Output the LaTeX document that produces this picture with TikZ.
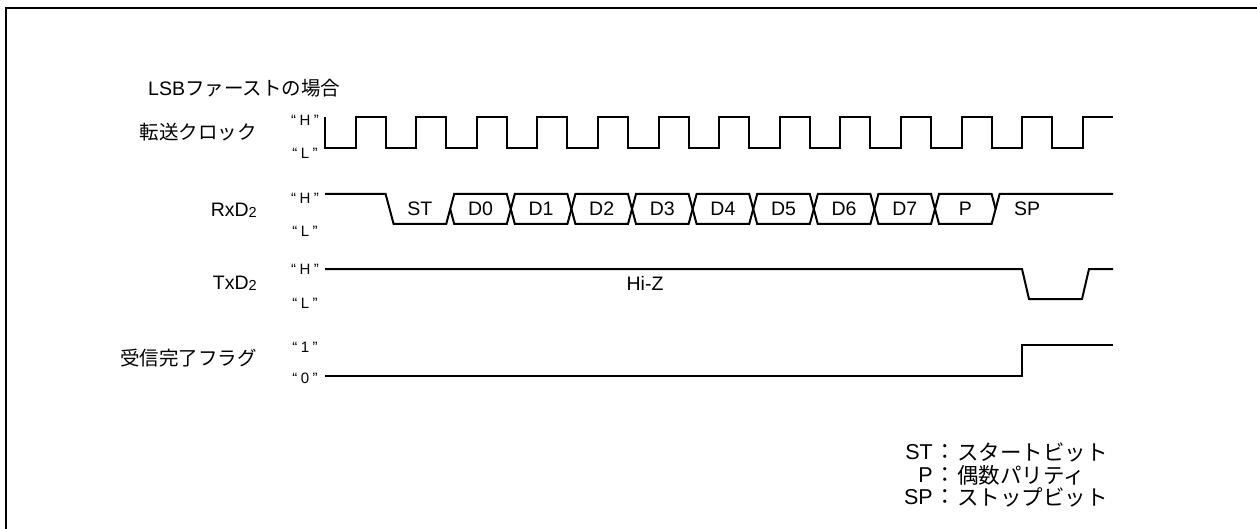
\documentclass[tikz,border=0pt]{standalone}
\usepackage{fontspec}
\setmainfont{Liberation Sans}
\newfontfamily\jp{Noto Sans CJK JP}
\newcommand{\qlab}[1]{“\kern3.5pt #1\kern3.5pt ”}
\begin{document}
\begin{tikzpicture}[x=1pt,y=-1pt,
  sig/.style={line width=2pt,line join=miter},
  frame/.style={line width=2pt},
  lab/.style={font=\fontsize{19.5}{22}\selectfont,inner sep=0pt},
  qstyle/.style={font=\fontsize{15}{16}\selectfont,inner sep=0pt},
  cell/.style={font=\fontsize{19.5}{21}\selectfont,inner sep=0pt},
  leg/.style={font=\fontsize{21.5}{23}\selectfont,inner sep=0pt}]
\useasboundingbox (0,0) rectangle (1257,529);
% frame
\draw[frame] (6,529) -- (6,8) -- (1257,8);
% title
\node[lab,anchor=west] (title) at (148,88) {LSB{\jp ファーストの場合}};
% row labels
\node[lab,anchor=east] (clk) at (257,132) {\jp 転送クロック};
\node[lab,anchor=east] (rxd) at (257,210) {RxD\raisebox{-1pt}{\fontsize{14.5}{15}\selectfont 2}};
\node[lab,anchor=east] (txd) at (257,283) {TxD\raisebox{-1pt}{\fontsize{14.5}{15}\selectfont 2}};
\node[lab,anchor=east] (flag) at (257,358) {\jp 受信完了フラグ};
% level labels
\node[qstyle] (clkH) at (305,120) {\qlab{H}};
\node[qstyle] (clkL) at (305,153) {\qlab{L}};
\node[qstyle] (rxH) at (305,198) {\qlab{H}};
\node[qstyle] (rxL) at (305,231) {\qlab{L}};
\node[qstyle] (txH) at (305,269) {\qlab{H}};
\node[qstyle] (txL) at (305,303) {\qlab{L}};
\node[qstyle] (fl1) at (305,347) {\qlab{1}};
\node[qstyle] (fl0) at (305,378) {\qlab{0}};
% clock
\draw[sig] (325,117) \foreach \k in {0,...,12}{
  -- ({325+60.6*\k},148) -- ({355.6+60.6*\k},148)
  -- ({355.6+60.6*\k},117) -- ({385.6+60.6*\k},117)};
% RxD2
\pgfmathsetmacro{\fa}{325+60.6}
\pgfmathsetmacro{\fb}{325+2*60.6}
\pgfmathsetmacro{\fl}{325+11*60.6}
\draw[sig] (325,194) -- (\fa,194) -- ({\fa+8},224) -- (\fb,224) -- ({\fb+4},209);
\foreach \k in {2,...,10}{
  \pgfmathsetmacro{\a}{325+60.6*\k}
  \pgfmathsetmacro{\b}{325+60.6*(\k+1)}
  \draw[sig] ({\a+4},209) -- ({\a+8},194) -- (\b,194) -- ({\b+4},209)
    -- (\b,224) -- ({\a+8},224) -- cycle;
}
\draw[sig] ({\fl+4},209) -- ({\fl+8},194) -- (1113,194);
\node[cell] (st) at ({(\fa+8+\fb)/2},209) {ST};
\foreach \k/\t in {2/D0,3/D1,4/D2,5/D3,6/D4,7/D5,8/D6,9/D7,10/P}{
  \node[cell] (c\k) at ({325+60.6*\k+30.3+4},209) {\t};
}
\node[cell] (sp) at (1027,209) {SP};
% TxD2
\draw[sig] (325,269) -- (1022,269) -- (1029,299) -- (1082,299) -- (1089,269) -- (1113,269);
\node[cell] (hiz) at (645,283) {Hi-Z};
% flag
\draw[sig] (325,376) -- (1022,376) -- (1022,345) -- (1113,345);
% legend
\node[leg,anchor=east] (lst) at (933,452) {ST};
\node[leg] (cst) at (945,452) {\jp ：};
\node[leg,anchor=west] (tst) at (957,452) {\jp スタートビット};
\node[leg,anchor=east] (lp) at (933,475) {P};
\node[leg] (cp) at (945,475) {\jp ：};
\node[leg,anchor=west] (tp) at (957,475) {\jp 偶数パリティ};
\node[leg,anchor=east] (lsp) at (933,497) {SP};
\node[leg] (csp) at (945,497) {\jp ：};
\node[leg,anchor=west] (tsp) at (957,497) {\jp ストップビット};
\end{tikzpicture}
\end{document}
